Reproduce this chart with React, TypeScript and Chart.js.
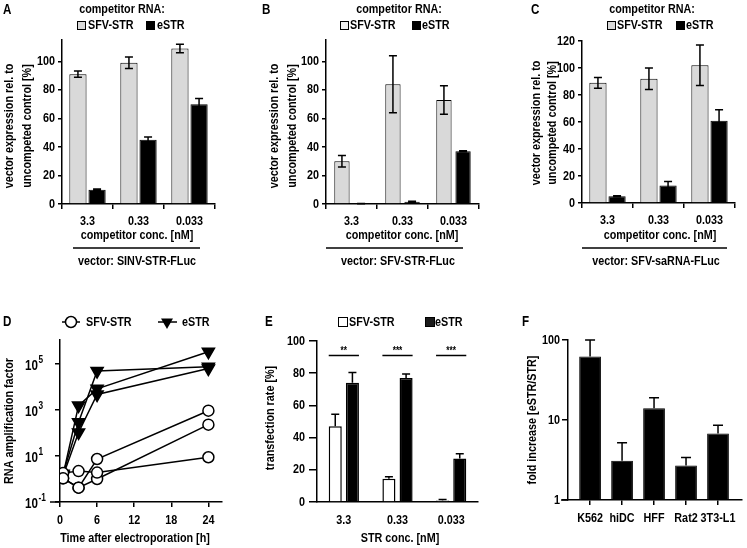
import React, { useEffect, useRef } from 'react';
import { Chart, registerables } from 'chart.js';
Chart.register(...registerables);

// ---------- DATA ----------
const concLabels = ['3.3', '0.33', '0.033'];

const aSfv = [91, 99, 109];
const aSfvErr = [2.2, 4, 3];
const aEstr = [10, 45, 70];
const aEstrErr = [0.6, 2, 4];

const bSfv = [30, 84, 73];
const bSfvErr = [4, 20, 10];
const bEstr = [0.3, 1.5, 37];
const bEstrErr = [0.1, 0.4, 0.4];

const cSfv = [89, 92, 102];
const cSfvErr = [4, 8, 15];
const cEstr = [5, 13, 61];
const cEstrErr = [0.4, 3, 8];

const dTimes = [0.5, 3, 6, 24];
const dSfv1 = [1.07, 0.42, 7.4, 930];
const dSfv2 = [1.8, 2.2, 1.9, 8.8];
const dSfv3 = [1.07, 0.42, 1.0, 230];
const dEstr1 = [1.5, 1550, 8300, 340000];
const dEstr2 = [1.7, 290, 49000, 76000];
const dEstr3 = [1.4, 105, 4700, 63000];
const dYTicks = [0.1, 10, 1000, 100000];
const dYExp = ['-1', '1', '3', '5'];

const eSfv = [47, 14.5, 1];
const eSfvErr = [7.5, 1.2, 0.6];
const eEstr = [74, 77, 27];
const eEstrErr = [6.5, 2.5, 3];
const eSigLevel = 91;
const eSigLabels = ['**', '***', '***'];

const fLabels = ['K562', 'hiDC', 'HFF', 'Rat2', '3T3-L1'];
const fVals = [62, 3.1, 14, 2.7, 6.8];
const fErr = [38, 2.1, 5, 0.7, 1.8];
const fYTicks = [1, 10, 100];

// ---------- STYLE ----------
const FAM = "'Liberation Sans', Arial, sans-serif";
const SX = 0.83; // horizontal condensing (Arial Narrow look)
const fnt = (s = 13) => `bold ${s}px ${FAM}`;
const GRAY = '#d9d9d9';

type Txt = { t: string; x: number; y: number; a?: CanvasTextAlign; s?: number; rot?: boolean };
type Ln = { x1: number; y1: number; x2: number; y2: number; w?: number };
type Bx = { x: number; y: number; w: number; h: number; fill: string };

function drawText(ctx: CanvasRenderingContext2D, t: string, x: number, y: number, a: CanvasTextAlign = 'center', s = 13, rot = false) {
  ctx.save();
  ctx.fillStyle = '#000';
  ctx.font = fnt(s);
  ctx.textAlign = a;
  ctx.textBaseline = 'middle';
  ctx.translate(x, y);
  if (rot) ctx.rotate(-Math.PI / 2);
  ctx.scale(SX, 1);
  ctx.fillText(t, 0, 0);
  ctx.restore();
}

// draws axis tick labels (condensed) at positions given by the chart's own scales
function drawTickLabels(
  chart: any, yOff: number, xOff: number,
  yFmt?: ((v: number) => string) | null, skipY = false,
  xFmt?: ((v: number) => string) | null
) {
  const ctx = chart.ctx;
  const ca = chart.chartArea;
  const xs = chart.scales.x;
  const ys = chart.scales.y;
  if (!skipY) {
    ys.ticks.forEach((t: any) => {
      drawText(ctx, yFmt ? yFmt(t.value) : String(t.value), ca.left - yOff, ys.getPixelForValue(t.value), 'right');
    });
  }
  xs.ticks.forEach((t: any, i: number) => {
    const lab = xFmt ? xFmt(t.value) : xs.type === 'category' ? String(chart.data.labels[t.value]) : String(t.value);
    drawText(ctx, lab, xs.getPixelForTick(i), ca.bottom + xOff, 'center');
  });
}

function decor(texts: Txt[], lines: Ln[] = [], boxes: Bx[] = [], extra?: (c: any) => void) {
  return {
    id: 'decor',
    afterDraw(chart: any) {
      const ctx = chart.ctx;
      ctx.save();
      lines.forEach((l) => {
        ctx.strokeStyle = '#000';
        ctx.lineWidth = l.w ?? 1.5;
        ctx.beginPath();
        ctx.moveTo(l.x1, l.y1);
        ctx.lineTo(l.x2, l.y2);
        ctx.stroke();
      });
      boxes.forEach((b) => {
        ctx.fillStyle = b.fill;
        ctx.fillRect(b.x, b.y, b.w, b.h);
        ctx.strokeStyle = '#000';
        ctx.lineWidth = 1;
        ctx.strokeRect(b.x + 0.5, b.y + 0.5, b.w - 1, b.h - 1);
      });
      texts.forEach((t) => drawText(ctx, t.t, t.x, t.y, t.a ?? 'center', t.s ?? 13, !!t.rot));
      if (extra) extra(chart);
      ctx.restore();
    },
  };
}

function errorBars(upOnly: boolean, cap: number) {
  return {
    id: 'errbars',
    afterDatasetsDraw(chart: any) {
      const ctx = chart.ctx;
      const ys = chart.scales.y;
      chart.data.datasets.forEach((ds: any, i: number) => {
        if (!ds.errors) return;
        const meta = chart.getDatasetMeta(i);
        meta.data.forEach((el: any, j: number) => {
          const d = ds.data[j];
          const v = typeof d === 'object' ? d.y : d;
          const e = ds.errors[j];
          const top = ys.getPixelForValue(v + e);
          const bot = upOnly ? ys.getPixelForValue(v) : ys.getPixelForValue(v - e);
          ctx.save();
          ctx.strokeStyle = '#000';
          ctx.lineWidth = 1.5;
          ctx.beginPath();
          ctx.moveTo(el.x, top);
          ctx.lineTo(el.x, bot);
          ctx.moveTo(el.x - cap, top);
          ctx.lineTo(el.x + cap, top);
          if (!upOnly) {
            ctx.moveTo(el.x - cap, bot);
            ctx.lineTo(el.x + cap, bot);
          }
          ctx.stroke();
          ctx.restore();
        });
      });
    },
  };
}

type Geo = { W: number; H: number; L: number; R: number; T: number; B: number };

function axisCommon(tickLen: number, drawTicks = true, offset?: boolean) {
  return {
    grid: { display: true, drawOnChartArea: false, drawTicks, tickLength: tickLen, color: '#000', lineWidth: 1.5, offset },
    border: { display: true, color: '#000', width: 1.5 },
  };
}

const noLabels = { callback: () => '', autoSkip: false, maxRotation: 0, font: { size: 13 } };

function baseOptions(g: Geo) {
  return {
    responsive: false,
    animation: false,
    devicePixelRatio: 1,
    layout: { padding: { left: 0, top: g.T, right: g.W - g.R, bottom: 0 } },
    plugins: { legend: { display: false }, tooltip: { enabled: false } },
  };
}

function axisExtension(chart: any, px: number) {
  const ctx = chart.ctx;
  const ca = chart.chartArea;
  ctx.strokeStyle = '#000';
  ctx.lineWidth = 1.5;
  ctx.beginPath();
  ctx.moveTo(ca.left - px, ca.bottom);
  ctx.lineTo(ca.left, ca.bottom);
  ctx.stroke();
}

function competitorPanel(
  g: Geo,
  sfv: number[], sfvErr: number[], estr: number[], estrErr: number[],
  yMax: number, decoTexts: Txt[], decoLines: Ln[], decoBoxes: Bx[], barPct: number
) {
  return {
    type: 'bar',
    data: {
      labels: concLabels,
      datasets: [
        { data: sfv, errors: sfvErr, backgroundColor: GRAY, borderColor: '#000', borderWidth: 1, categoryPercentage: 0.75, barPercentage: barPct },
        { data: estr, errors: estrErr, backgroundColor: '#000', borderColor: '#000', borderWidth: 1, categoryPercentage: 0.75, barPercentage: barPct },
      ],
    },
    options: {
      ...baseOptions(g),
      scales: {
        x: {
          ...axisCommon(5, true, true),
          ticks: { ...noLabels },
          afterFit: (s: any) => { s.height = g.H - g.B; },
        },
        y: {
          min: 0, max: yMax,
          ...axisCommon(4),
          ticks: { ...noLabels, stepSize: 20, includeBounds: false },
          afterFit: (s: any) => { s.width = g.L; },
        },
      },
    },
    plugins: [errorBars(false, 4), decor(decoTexts, decoLines, decoBoxes, (c: any) => drawTickLabels(c, 7, 17))],
  };
}

function buildA() {
  const g = { W: 250, H: 280, L: 62, R: 215, T: 40, B: 204 };
  return competitorPanel(g, aSfv, aSfvErr, aEstr, aEstrErr, 115,
    [
      { t: 'A', x: 3, y: 10, a: 'left', s: 14 },
      { t: 'competitor RNA:', x: 122, y: 9 },
      { t: 'SFV-STR', x: 88, y: 25.5, a: 'left' },
      { t: 'eSTR', x: 157, y: 25.5, a: 'left' },
      { t: 'vector expression rel. to', x: 9, y: 126, rot: true },
      { t: 'uncompeted control [%]', x: 27, y: 126, rot: true },
      { t: 'competitor conc. [nM]', x: 137, y: 235 },
      { t: 'vector: SINV-STR-FLuc', x: 137, y: 261 },
    ],
    [{ x1: 73, y1: 248, x2: 200, y2: 248 }],
    [{ x: 77, y: 21, w: 9, h: 9, fill: GRAY }, { x: 146, y: 21, w: 9, h: 9, fill: '#000' }],
    0.9);
}

function buildB() {
  const g = { W: 250, H: 280, L: 76, R: 229, T: 40, B: 204 };
  return competitorPanel(g, bSfv, bSfvErr, bEstr, bEstrErr, 115,
    [
      { t: 'B', x: 12, y: 10, a: 'left', s: 14 },
      { t: 'competitor RNA:', x: 149, y: 9 },
      { t: 'SFV-STR', x: 100, y: 25.5, a: 'left' },
      { t: 'eSTR', x: 172, y: 25.5, a: 'left' },
      { t: 'vector expression rel. to', x: 24, y: 126, rot: true },
      { t: 'uncompeted control [%]', x: 42, y: 126, rot: true },
      { t: 'competitor conc. [nM]', x: 152, y: 235 },
      { t: 'vector: SFV-STR-FLuc', x: 148, y: 261 },
    ],
    [{ x1: 76, y1: 248, x2: 213, y2: 248 }],
    [{ x: 90, y: 21, w: 9, h: 9, fill: '#f2f2f2' }, { x: 162, y: 21, w: 9, h: 9, fill: '#000' }],
    0.8);
}

function buildC() {
  const g = { W: 247, H: 280, L: 82, R: 235, T: 41, B: 203 };
  return competitorPanel(g, cSfv, cSfvErr, cEstr, cEstrErr, 120,
    [
      { t: 'C', x: 31, y: 10, a: 'left', s: 14 },
      { t: 'competitor RNA:', x: 152, y: 9 },
      { t: 'SFV-STR', x: 117, y: 25.5, a: 'left' },
      { t: 'eSTR', x: 186, y: 25.5, a: 'left' },
      { t: 'vector expression rel. to', x: 36, y: 123, rot: true },
      { t: 'uncompeted control [%]', x: 52, y: 123, rot: true },
      { t: 'competitor conc. [nM]', x: 160, y: 235 },
      { t: 'vector: SFV-saRNA-FLuc', x: 156, y: 261 },
    ],
    [{ x1: 82, y1: 248, x2: 227, y2: 248 }],
    [{ x: 107, y: 21, w: 9, h: 9, fill: GRAY }, { x: 176, y: 21, w: 9, h: 9, fill: '#000' }],
    0.9);
}

function buildD() {
  const g = { W: 250, H: 268, L: 60, R: 222, T: 60, B: 222 };
  const mk = (arr: number[], estr: boolean) => ({
    data: dTimes.map((t, i) => ({ x: t, y: arr[i] })),
    showLine: true,
    borderColor: '#000',
    borderWidth: 1.5,
    pointStyle: estr ? 'triangle' : 'circle',
    rotation: estr ? 180 : 0,
    pointRadius: estr ? 7 : 5.5,
    pointBackgroundColor: estr ? '#000' : '#fff',
    pointBorderColor: '#000',
    pointBorderWidth: 1.5,
  });
  return {
    type: 'scatter',
    data: {
      datasets: [
        mk(dSfv1, false), mk(dSfv2, false), mk(dSfv3, false),
        mk(dEstr1, true), mk(dEstr2, true), mk(dEstr3, true),
      ],
    },
    options: {
      ...baseOptions(g),
      scales: {
        x: {
          type: 'linear', min: 0, max: 26.2,
          ...axisCommon(5),
          ticks: { ...noLabels, stepSize: 6, includeBounds: false },
          afterFit: (s: any) => { s.height = g.H - g.B; },
        },
        y: {
          type: 'logarithmic', min: 0.1, max: 1.1e6,
          ...axisCommon(5),
          afterBuildTicks: (s: any) => { s.ticks = dYTicks.map((v) => ({ value: v })); },
          ticks: { ...noLabels },
          afterFit: (s: any) => { s.width = g.L; },
        },
      },
    },
    plugins: [
      decor(
        [
          { t: 'D', x: 3, y: 42, a: 'left', s: 14 },
          { t: 'SFV-STR', x: 86, y: 42, a: 'left' },
          { t: 'eSTR', x: 182, y: 42, a: 'left' },
          { t: 'RNA amplification factor', x: 9, y: 141, rot: true },
          { t: 'Time after electroporation [h]', x: 135, y: 258 },
        ],
        [{ x1: 62, y1: 42, x2: 80, y2: 42 }, { x1: 158, y1: 42, x2: 177, y2: 42 }],
        [],
        (chart: any) => {
          const ctx = chart.ctx;
          axisExtension(chart, 10);
          // legend markers
          ctx.strokeStyle = '#000';
          ctx.lineWidth = 1.5;
          ctx.fillStyle = '#fff';
          ctx.beginPath();
          ctx.arc(71, 42, 5.5, 0, Math.PI * 2);
          ctx.fill();
          ctx.stroke();
          ctx.fillStyle = '#000';
          ctx.beginPath();
          ctx.moveTo(161, 38.5);
          ctx.lineTo(173, 38.5);
          ctx.lineTo(167, 49);
          ctx.closePath();
          ctx.fill();
          drawTickLabels(chart, 0, 18, null, true);
          // y tick labels with superscripts
          const ys = chart.scales.y;
          dYTicks.forEach((v, i) => {
            const y = ys.getPixelForValue(v);
            drawText(ctx, '10', 38, y + 2, 'right', 14);
            drawText(ctx, dYExp[i], 38.5, y - 4, 'left', 10);
          });
        }
      ),
    ],
  };
}

function buildE() {
  const g = { W: 250, H: 268, L: 67, R: 228, T: 61, B: 222 };
  return {
    type: 'bar',
    data: {
      labels: concLabels,
      datasets: [
        { data: eSfv, errors: eSfvErr, backgroundColor: '#fff', borderColor: '#000', borderWidth: 1.5, categoryPercentage: 0.64, barPercentage: 0.76 },
        { data: eEstr, errors: eEstrErr, backgroundColor: '#000', borderColor: '#000', borderWidth: 1.5, categoryPercentage: 0.64, barPercentage: 0.76 },
      ],
    },
    options: {
      ...baseOptions(g),
      scales: {
        x: {
          ...axisCommon(0, false, true),
          ticks: { ...noLabels },
          afterFit: (s: any) => { s.height = g.H - g.B; },
        },
        y: {
          min: 0, max: 100,
          ...axisCommon(8),
          ticks: { ...noLabels, stepSize: 20 },
          afterFit: (s: any) => { s.width = g.L; },
        },
      },
    },
    plugins: [
      errorBars(true, 4),
      decor(
        [
          { t: 'E', x: 15, y: 42, a: 'left', s: 14 },
          { t: 'SFV-STR', x: 99, y: 42, a: 'left' },
          { t: 'eSTR', x: 185, y: 42, a: 'left' },
          { t: 'transfection rate [%]', x: 20, y: 138, rot: true },
          { t: 'STR conc. [nM]', x: 150, y: 258 },
        ],
        [],
        [{ x: 88, y: 37, w: 10, h: 10, fill: '#fff' }, { x: 175, y: 37, w: 10, h: 10, fill: '#1a1a1a' }],
        (chart: any) => {
          const ctx = chart.ctx;
          drawTickLabels(chart, 12, 18);
          const m0 = chart.getDatasetMeta(0);
          const m1 = chart.getDatasetMeta(1);
          const y = chart.scales.y.getPixelForValue(eSigLevel);
          eSigLabels.forEach((lab, j) => {
            const a: any = m0.data[j];
            const b: any = m1.data[j];
            const x1 = a.x - a.width / 2;
            const x2 = b.x + b.width / 2;
            ctx.strokeStyle = '#000';
            ctx.lineWidth = 1.5;
            ctx.beginPath();
            ctx.moveTo(x1, y);
            ctx.lineTo(x2, y);
            ctx.stroke();
            drawText(ctx, lab, (x1 + x2) / 2, y - 4, 'center', 10);
          });
        }
      ),
    ],
  };
}

function buildF() {
  const g = { W: 247, H: 268, L: 68, R: 242, T: 60, B: 220 };
  return {
    type: 'bar',
    data: {
      datasets: [
        {
          data: fVals.map((v, i) => ({ x: i, y: v })),
          errors: fErr,
          backgroundColor: '#000', borderColor: '#000', borderWidth: 1,
          categoryPercentage: 1, barPercentage: 0.68,
        },
      ],
    },
    options: {
      ...baseOptions(g),
      scales: {
        x: {
          type: 'linear', min: -0.69, max: 4.75, offset: false,
          ...axisCommon(5, true, false),
          afterBuildTicks: (s: any) => { s.ticks = fLabels.map((_, i) => ({ value: i })); },
          ticks: { ...noLabels },
          afterFit: (s: any) => { s.height = g.H - g.B; },
        },
        y: {
          type: 'logarithmic', min: 1, max: 100,
          ...axisCommon(6),
          afterBuildTicks: (s: any) => { s.ticks = fYTicks.map((v) => ({ value: v })); },
          ticks: { ...noLabels },
          afterFit: (s: any) => { s.width = g.L; },
        },
      },
    },
    plugins: [
      errorBars(true, 5),
      decor(
        [
          { t: 'F', x: 22, y: 42, a: 'left', s: 14 },
          { t: 'fold increase [eSTR/STR]', x: 32, y: 140, rot: true },
        ],
        [],
        [],
        (chart: any) => {
          axisExtension(chart, 7);
          drawTickLabels(chart, 8, 18, null, false, (v: number) => fLabels[v]);
        }
      ),
    ],
  };
}

function Panel({ left, top, w, h, build }: { left: number; top: number; w: number; h: number; build: () => any }) {
  const ref = useRef<HTMLCanvasElement | null>(null);
  useEffect(() => {
    const chart = new Chart(ref.current as HTMLCanvasElement, build());
    return () => chart.destroy();
  }, []);
  return (
    <canvas
      ref={ref}
      width={w}
      height={h}
      style={{ position: 'absolute', left, top, width: w, height: h }}
    />
  );
}

export default function App() {
  return (
    <div style={{ position: 'fixed', left: 0, top: 0, width: 747, height: 548, background: '#fff', overflow: 'hidden' }}>
      <Panel left={0} top={0} w={250} h={280} build={buildA} />
      <Panel left={250} top={0} w={250} h={280} build={buildB} />
      <Panel left={500} top={0} w={247} h={280} build={buildC} />
      <Panel left={0} top={280} w={250} h={268} build={buildD} />
      <Panel left={250} top={280} w={250} h={268} build={buildE} />
      <Panel left={500} top={280} w={247} h={268} build={buildF} />
    </div>
  );
}
